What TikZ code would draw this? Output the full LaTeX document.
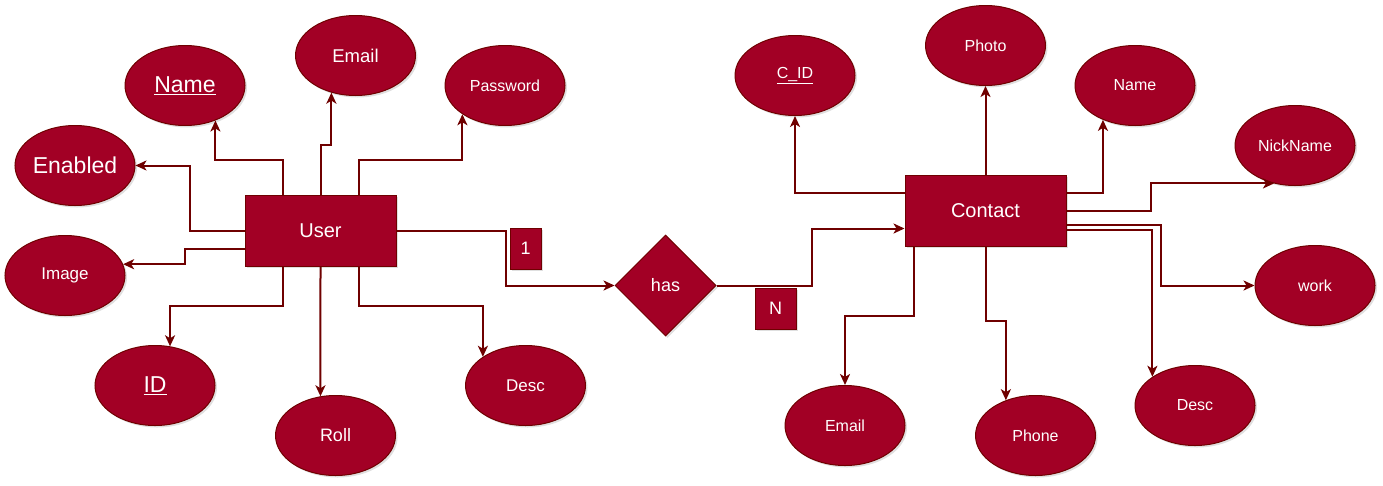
\documentclass[tikz,border=0pt]{standalone}
\usepackage{fontspec}
\setmainfont{Liberation Sans}
\usetikzlibrary{calc}
\usetikzlibrary{positioning}
\usetikzlibrary{shapes.geometric}
\usetikzlibrary{arrows.meta}
\usetikzlibrary{shadows}
\definecolor{crimson}{HTML}{A20025}
\definecolor{darkred}{HTML}{6F0000}

\begin{document}
\begin{tikzpicture}[x=1pt,y=-1pt,
    shade/.style={drop shadow={opacity=.25,shadow xshift=2pt,shadow yshift=-2pt}},
    attr/.style={ellipse,draw=darkred,line width=1pt,fill=crimson,text=white,shade,
      minimum width=120pt,minimum height=80pt,inner sep=0pt,font=\fontsize{16}{19}\selectfont},
    entity/.style={rectangle,draw=darkred,line width=1pt,fill=crimson,text=white,shade,
      minimum width=151pt,minimum height=71pt,inner sep=0pt,font=\fontsize{20}{24}\selectfont},
    relation/.style={diamond,aspect=1,draw=darkred,line width=1pt,fill=crimson,text=white,shade,
      minimum width=101pt,minimum height=101pt,inner sep=0pt,font=\fontsize{18}{22}\selectfont},
    card/.style={rectangle,draw=darkred,line width=1pt,fill=crimson,text=white,shade,
      minimum width=41pt,minimum height=41pt,inner sep=0pt,font=\fontsize{18}{22}\selectfont},
    link/.style={draw=darkred,line width=2pt,-{Stealth[length=11pt,width=10pt,inset=3pt]}}]
  \useasboundingbox (0,0) rectangle (1383,485);

  % user and its attributes
  \node[entity] (user) at (320.5,230.5) {User};
  \node[attr,font=\fontsize{23}{27}\selectfont] (enabled) at (75,165.5) {Enabled};
  \node[attr,font=\fontsize{23}{27}\selectfont] (uname) at (185,85.5) {\underline{Name}};
  \node[attr,font=\fontsize{18.5}{22}\selectfont] (uemail) at (355.5,55.5) {Email};
  \node[attr] (password) at (505,85.5) {Password};
  \node[attr,font=\fontsize{17}{20}\selectfont] (image) at (65,275.5) {Image};
  \node[attr,font=\fontsize{23}{27}\selectfont] (id) at (155,385.5) {\underline{ID}};
  \node[attr,font=\fontsize{18}{21}\selectfont] (roll) at (335.5,435.5) {Roll};
  \node[attr,font=\fontsize{17}{20}\selectfont] (udesc) at (525.5,385.5) {Desc};

  % relationship
  \node[relation] (has) at (665.5,285.5) {has};
  \node[card,minimum width=31pt] (one) at (525.5,248.5) {1};
  \node[card] (many) at (775.5,308.5) {N};

  % contact and its attributes
  \node[entity,minimum width=161pt] (contact) at (985.5,210.5) {Contact};
  \node[attr] (cid) at (795,75.5) {\underline{C\_ID}};
  \node[attr] (photo) at (985.5,45.5) {Photo};
  \node[attr] (cname) at (1135,85.5) {Name};
  \node[attr] (nick) at (1295,145.5) {NickName};
  \node[attr] (work) at (1315,285.5) {work};
  \node[attr] (cdesc) at (1195,405.5) {Desc};
  \node[attr] (cemail) at (845,425.5) {Email};
  \node[attr] (phone) at (1035.5,435.5) {Phone};

  % ports on the two boxes
  \coordinate (ut1) at ($(user.north west)!.25!(user.north east)$);
  \coordinate (ut3) at ($(user.north west)!.75!(user.north east)$);
  \coordinate (ub1) at ($(user.south west)!.25!(user.south east)$);
  \coordinate (ub3) at ($(user.south west)!.75!(user.south east)$);
  \coordinate (ul3) at ($(user.north west)!.75!(user.south west)$);
  \coordinate (cl1) at ($(contact.north west)!.25!(contact.south west)$);
  \coordinate (cl3) at ($(contact.north west)!.75!(contact.south west)$);
  \coordinate (cr1) at ($(contact.north east)!.25!(contact.south east)$);
  \coordinate (cr2) at ($(contact.north east)!.7!(contact.south east)$);
  \coordinate (cr3) at ($(contact.north east)!.775!(contact.south east)$);
  \coordinate (cb0) at ($(contact.south west)!.06!(contact.south east)$);

  % user links
  \draw[link] (user.west) -- ++(-55,0) |- (enabled.east);
  \draw[link] (ut1) -- ++(0,-35) -| (uname.-49);
  \draw[link] (user.north) -- ++(0,-50) -| (uemail.-123);
  \draw[link] (ut3) -- ++(0,-35) -| (password.-146);
  \draw[link] (ul3) -- ++(-60,0) |- (image.11);
  \draw[link] (ub1) -- ++(0,39) -| (id.69);
  \draw[link] (user.south) -- (roll.111);
  \draw[link] (ub3) -- ++(0,39) -| (udesc.146);

  % through the relationship
  \draw[link] (user.east) -- ++(109,0) |- (has.west);
  \draw[link] (has.east) -- ++(95,0) |- (cl3);

  % contact links
  \draw[link] (cl1) -| (cid.south);
  \draw[link] (contact.north) -- (photo.south);
  \draw[link] (cr1) -| (cname.-133);
  \draw[link] (contact.east) -- ++(84,0) |- (nick.-119);
  \draw[link] (cr2) -- ++(94,0) |- (work.west);
  \draw[link] (cr3) -| (cdesc.146);
  \draw[link] (cb0) -- ++(0,69) -| (cemail.north);
  \draw[link] (contact.south) -- ++(0,74) -| (phone.130);
\end{tikzpicture}
\end{document}
